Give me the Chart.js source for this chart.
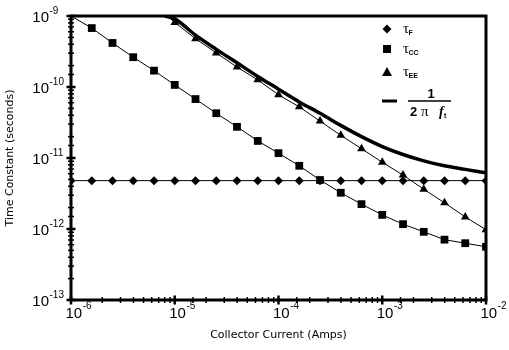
<!DOCTYPE html>
<html>
<head>
<meta charset="utf-8">
<script src="https://cdn.jsdelivr.net/npm/chart.js@4.4.1/dist/chart.umd.min.js"></script>
<style>
html,body{margin:0;padding:0;background:#fff;}
#wrap{width:509px;height:350px;position:relative;}
</style>
</head>
<body>
<div id="wrap"><canvas id="c" width="509" height="350"></canvas></div>
<script>
// Collector current (A), 0.2-decade steps
const current = [1e-6, 1.585e-6, 2.512e-6, 3.981e-6, 6.310e-6, 1e-5, 1.585e-5, 2.512e-5, 3.981e-5, 6.310e-5,
                 1e-4, 1.585e-4, 2.512e-4, 3.981e-4, 6.310e-4, 1e-3, 1.585e-3, 2.512e-3, 3.981e-3, 6.310e-3, 1e-2];
// tau_F (s)
const tauF = [4.8e-12, 4.8e-12, 4.8e-12, 4.8e-12, 4.8e-12, 4.8e-12, 4.8e-12, 4.8e-12, 4.8e-12, 4.8e-12,
              4.8e-12, 4.8e-12, 4.8e-12, 4.8e-12, 4.8e-12, 4.8e-12, 4.8e-12, 4.8e-12, 4.8e-12, 4.8e-12, 4.8e-12];
// tau_CC (s)
const tauCC = [1.0e-9, 6.76e-10, 4.17e-10, 2.63e-10, 1.70e-10, 1.07e-10, 6.76e-11, 4.27e-11, 2.75e-11, 1.74e-11,
               1.17e-11, 7.76e-12, 4.90e-12, 3.24e-12, 2.24e-12, 1.58e-12, 1.17e-12, 9.12e-13, 7.08e-13, 6.31e-13, 5.62e-13];
// tau_EE (s) -- curve enters the frame at the top edge
const eeCurrent = [8.5e-6, 1e-5, 1.585e-5, 2.512e-5, 3.981e-5, 6.310e-5, 1e-4, 1.585e-4, 2.512e-4, 3.981e-4,
                   6.310e-4, 1e-3, 1.585e-3, 2.512e-3, 3.981e-3, 6.310e-3, 1e-2];
const tauEE = [1.0e-9, 8.13e-10, 4.79e-10, 3.02e-10, 1.91e-10, 1.26e-10, 7.76e-11, 5.25e-11, 3.31e-11, 2.09e-11,
               1.35e-11, 8.71e-12, 5.75e-12, 3.63e-12, 2.34e-12, 1.48e-12, 9.77e-13];
// 1/(2 pi fT) (s)
const ftCurrent = [8.0e-6, 1e-5, 1.585e-5, 2.512e-5, 3.981e-5, 6.310e-5, 1e-4, 1.585e-4, 2.512e-4, 3.981e-4,
                   6.310e-4, 1e-3, 1.585e-3, 2.512e-3, 3.981e-3, 6.310e-3, 1e-2];
const tauT = [1.0e-9, 9.12e-10, 5.37e-10, 3.39e-10, 2.19e-10, 1.41e-10, 9.33e-11, 6.17e-11, 4.27e-11, 2.88e-11,
              2.00e-11, 1.45e-11, 1.12e-11, 9.12e-12, 7.76e-12, 6.92e-12, 6.17e-12];

const xMin = 1e-6, xMax = 1e-2, yMin = 1e-13, yMax = 1e-9;
const xTitle = 'Collector Current (Amps)';
const yTitle = 'Time Constant (seconds)';

function isDecade(v){ const l = Math.log10(v); return Math.abs(l - Math.round(l)) < 1e-6; }
const pts = (xs, ys) => xs.map((x, i) => ({x: x, y: ys[i]}));

const framePlugin = {
  id: 'frame',
  afterDatasetsDraw(chart) {
    const ctx = chart.ctx, a = chart.chartArea;
    const xs = chart.scales.x, ys = chart.scales.y;
    ctx.save();
    ctx.strokeStyle = '#000';
    ctx.fillStyle = '#000';
    ctx.lineCap = 'butt';
    // ticks crossing the axes
    ys.ticks.forEach(t => {
      const p = ys.getPixelForValue(t.value);
      const major = isDecade(t.value);
      ctx.lineWidth = major ? 2.5 : 1.5;
      const h = major ? 4.5 : 3;
      ctx.beginPath(); ctx.moveTo(a.left - h, p); ctx.lineTo(a.left + h, p); ctx.stroke();
    });
    xs.ticks.forEach(t => {
      const p = xs.getPixelForValue(t.value);
      const major = isDecade(t.value);
      ctx.lineWidth = major ? 2.5 : 1.5;
      const h = major ? 4.5 : 3;
      ctx.beginPath(); ctx.moveTo(p, a.bottom - h); ctx.lineTo(p, a.bottom + h); ctx.stroke();
    });
    // frame
    ctx.lineWidth = 3;
    ctx.strokeRect(a.left, a.top, a.right - a.left, a.bottom - a.top);

    // decade labels 10^n with real superscript
    ctx.textBaseline = 'alphabetic';
    const big = '15px "Liberation Sans"', small = '10px "Liberation Sans"';
    ys.ticks.forEach(t => {
      if (!isDecade(t.value)) return;
      const p = ys.getPixelForValue(t.value);
      const e = String(Math.round(Math.log10(t.value)));
      ctx.font = big; ctx.textAlign = 'right';
      ctx.fillText('10', a.left - 22, p + 5.5);
      ctx.font = small; ctx.textAlign = 'left';
      ctx.fillText(e, a.left - 21.5, p - 2.5);
    });
    xs.ticks.forEach(t => {
      if (!isDecade(t.value)) return;
      const p = xs.getPixelForValue(t.value);
      const e = String(Math.round(Math.log10(t.value)));
      ctx.font = big; ctx.textAlign = 'left';
      ctx.fillText('10', p - 5.5, a.bottom + 17.5);
      const w = ctx.measureText('10').width;
      ctx.font = small;
      ctx.fillText(e, p - 5.5 + w + 0.5, a.bottom + 9);
    });
    ctx.restore();
  },
  afterDraw(chart) {
    const ctx = chart.ctx, a = chart.chartArea;
    const mx = a.right - 99; // marker column
    ctx.save();
    ctx.fillStyle = '#000';
    ctx.strokeStyle = '#000';
    // diamond
    let y = a.top + 13;
    ctx.beginPath(); ctx.moveTo(mx, y - 4.5); ctx.lineTo(mx + 4.5, y); ctx.lineTo(mx, y + 4.5); ctx.lineTo(mx - 4.5, y); ctx.closePath(); ctx.fill();
    // square
    let y2 = a.top + 33;
    ctx.fillRect(mx - 4, y2 - 4, 8, 8);
    // triangle
    let y3 = a.top + 56;
    ctx.beginPath(); ctx.moveTo(mx, y3 - 5); ctx.lineTo(mx + 5, y3 + 4); ctx.lineTo(mx - 5, y3 + 4); ctx.closePath(); ctx.fill();
    // thick line sample
    let y4 = a.top + 85;
    ctx.lineWidth = 3;
    ctx.beginPath(); ctx.moveTo(mx - 5, y4); ctx.lineTo(mx + 10, y4); ctx.stroke();
    // labels
    const tx = mx + 16;
    ctx.textBaseline = 'alphabetic';
    ctx.textAlign = 'left';
    function tau(yc, sub) {
      ctx.font = '15px "Liberation Serif"';
      ctx.fillText('\u03C4', tx, yc + 4);
      const w = ctx.measureText('\u03C4').width;
      ctx.font = 'bold 7px "Liberation Sans"';
      ctx.fillText(sub, tx + w - 0.5, yc + 6);
    }
    tau(y, 'F');
    tau(y2, 'CC');
    tau(y3, 'EE');
    // fraction 1 / (2 pi f_t)
    const fx = tx + 5;
    ctx.lineWidth = 1.5;
    ctx.beginPath(); ctx.moveTo(fx, y4); ctx.lineTo(fx + 43, y4); ctx.stroke();
    ctx.textAlign = 'center';
    ctx.font = 'bold 13px "Liberation Sans"';
    ctx.fillText('1', fx + 23, y4 - 3);
    ctx.textAlign = 'left';
    ctx.fillText('2', fx + 2, y4 + 15);
    ctx.font = '15px "Liberation Serif"';
    ctx.fillText('\u03C0', fx + 13, y4 + 15);
    ctx.font = 'italic bold 14px "Liberation Serif"';
    ctx.fillText('f', fx + 31, y4 + 15);
    ctx.font = 'bold 7px "Liberation Sans"';
    ctx.fillText('t', fx + 36, y4 + 17);
    ctx.restore();
  }
};

new Chart(document.getElementById('c'), {
  type: 'line',
  data: {
    datasets: [
      {
        label: '1/(2\u03C0 f_t)',
        data: pts(ftCurrent, tauT),
        borderColor: '#000', borderWidth: 3.5,
        pointRadius: 0, cubicInterpolationMode: 'monotone', order: 4
      },
      {
        label: '\u03C4EE',
        data: pts(eeCurrent, tauEE),
        borderColor: '#000', backgroundColor: '#000', borderWidth: 1,
        pointStyle: 'triangle', pointRadius: ctx => ctx.dataIndex === 0 ? 0 : 5, pointBorderWidth: 0,
        tension: 0, order: 3
      },
      {
        label: '\u03C4CC',
        data: pts(current, tauCC),
        borderColor: '#000', backgroundColor: '#000', borderWidth: 1,
        pointStyle: 'rect', pointRadius: ctx => ctx.dataIndex === 0 ? 0 : 5.5, pointBorderWidth: 0,
        tension: 0, order: 2
      },
      {
        label: '\u03C4F',
        data: pts(current, tauF),
        borderColor: '#000', backgroundColor: '#000', borderWidth: 1,
        pointStyle: 'rectRot', pointRadius: 4.5, pointBorderWidth: 0,
        tension: 0, order: 1
      }
    ]
  },
  options: {
    responsive: false,
    animation: false,
    devicePixelRatio: 1,
    layout: { padding: { left: 0, right: 23, top: 16, bottom: 0 } },
    plugins: { legend: { display: false }, tooltip: { enabled: false } },
    scales: {
      x: {
        type: 'logarithmic', min: xMin, max: xMax,
        grid: { display: false }, border: { display: false },
        afterFit: s => { s.height = 50; },
        ticks: { display: false, autoSkip: false },
        title: {
          display: true, text: xTitle, color: '#000',
          font: { family: '"DejaVu Sans"', size: 11 }, padding: { top: 0, bottom: 8 }
        }
      },
      y: {
        type: 'logarithmic', min: yMin, max: yMax,
        grid: { display: false }, border: { display: false },
        afterFit: s => { s.width = 71; },
        ticks: { display: false, autoSkip: false },
        title: {
          display: true, text: yTitle, color: '#000',
          font: { family: '"DejaVu Sans"', size: 11 }, padding: { top: 4, bottom: 0 }
        }
      }
    }
  },
  plugins: [framePlugin]
});
</script>
</body>
</html>
